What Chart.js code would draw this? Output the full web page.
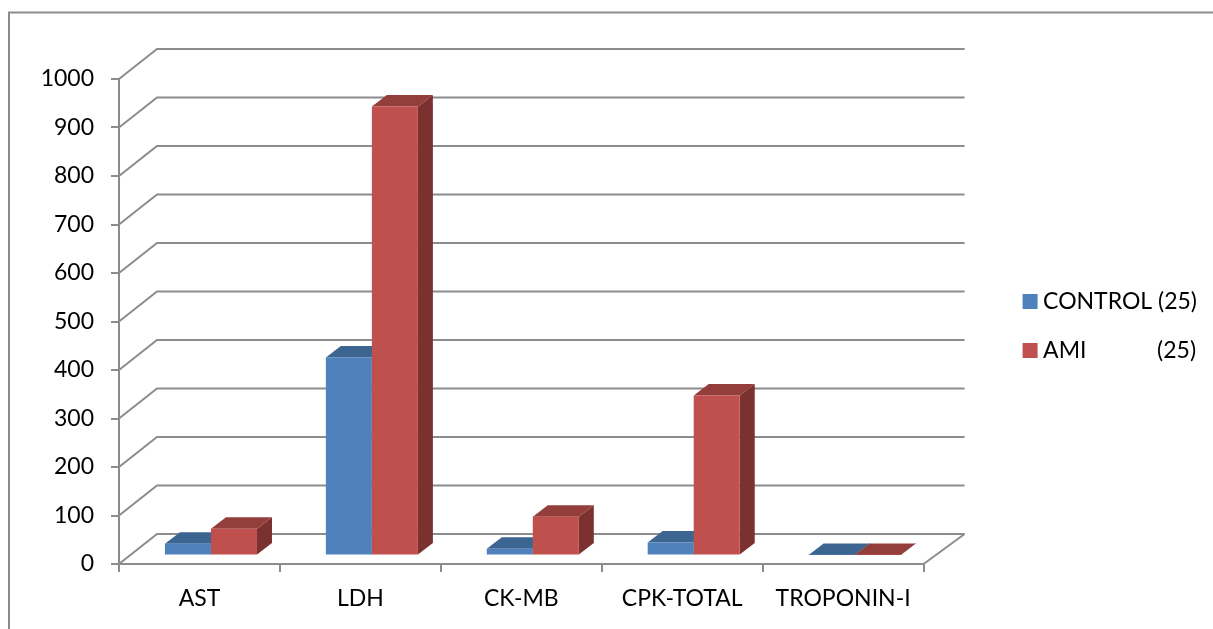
<!DOCTYPE html>
<html>
<head>
<meta charset="utf-8">
<title>Cardiac markers</title>
<style>
  html, body { margin: 0; padding: 0; background: #fff; overflow: hidden; }
  canvas { display: block; }
</style>
<script src="https://cdn.jsdelivr.net/npm/chart.js"></script>
</head>
<body>
<canvas id="markerChart" width="1213" height="629"></canvas>
<script>
const categories = ["AST", "LDH", "CK-MB", "CPK-TOTAL", "TROPONIN-I"];
const controlValues = [24, 408, 14, 27, 1];
const amiValues = [55, 926, 80, 330, 1];
const controlLabel = "CONTROL (25)";
const amiLabel = "AMI            (25)";

const gridColor = "#8c8c8c";
const textColor = "#000000";
const fontName = "Lato";
const fontSize = 23;

// fake 3D, sizes measured on the picture
const wallLeft = { x: 38, y: -30 };
const wallRight = { x: 41, y: -30 };
const barShift = { x: 11.5, y: -8.5 };
const barDepth = { x: 15, y: -11.5 };
const legendGap = 79;

function face(ctx, color, points) {
  ctx.fillStyle = color;
  ctx.beginPath();
  points.forEach(([x, y], i) => (i ? ctx.lineTo(x, y) : ctx.moveTo(x, y)));
  ctx.closePath();
  ctx.fill();
}

function drawBars(chart, index) {
  const ctx = chart.ctx;
  const ds = chart.data.datasets[index];
  const meta = chart.getDatasetMeta(index);
  ctx.save();
  ctx.translate(barShift.x, barShift.y);
  meta.data.forEach((bar) => {
    const { x, y, base, width } = bar.getProps(["x", "y", "base", "width"], true);
    const l = x - width / 2;
    const r = x + width / 2;
    const dx = barDepth.x;
    const dy = barDepth.y;
    face(ctx, ds.sideColor, [[r, y], [r + dx, y + dy], [r + dx, base + dy], [r, base]]);
    face(ctx, ds.topColor, [[l, y], [l + dx, y + dy], [r + dx, y + dy], [r, y]]);
  });
  meta.controller.draw();
  ctx.restore();
}

const frame3d = {
  id: "frame3d",
  beforeLayout(chart) {
    // leave empty room between the plot and the legend
    const legend = chart.legend;
    if (!legend._wideFit) {
      const fit = legend.fit;
      legend.fit = function () {
        fit.call(this);
        this.width += legendGap;
      };
      legend._wideFit = true;
    }
  },
  afterLayout(chart) {
    chart.legend.left += legendGap;
    chart.legend.top -= 28;
    chart.legend.bottom -= 28;
  },
  beforeDraw(chart) {
    const ctx = chart.ctx;
    ctx.save();
    ctx.strokeStyle = gridColor;
    ctx.lineWidth = 2;
    ctx.beginPath();
    ctx.moveTo(9, chart.height);
    ctx.lineTo(9, 12.5);
    ctx.lineTo(chart.width, 12.5);
    ctx.stroke();
    ctx.restore();
  },
  beforeDatasetsDraw(chart) {
    const ctx = chart.ctx;
    const { left, right, bottom } = chart.chartArea;
    const yScale = chart.scales.y;
    ctx.save();
    ctx.strokeStyle = gridColor;
    ctx.lineWidth = 2;
    yScale.ticks.forEach((tick) => {
      const y = yScale.getPixelForValue(tick.value);
      ctx.beginPath();
      ctx.moveTo(left, y);
      ctx.lineTo(left + wallLeft.x, y + wallLeft.y);
      ctx.lineTo(right + wallRight.x, y + wallRight.y);
      ctx.stroke();
    });
    ctx.beginPath();
    ctx.moveTo(right, bottom);
    ctx.lineTo(right + wallRight.x, bottom + wallRight.y);
    ctx.stroke();
    ctx.restore();

    // blue first so the red boxes sit in front of it
    chart.data.datasets.forEach((ds, index) => drawBars(chart, index));
  },
  beforeDatasetDraw() {
    return false;
  },
};

new Chart(document.getElementById("markerChart"), {
  type: "bar",
  data: {
    labels: categories,
    datasets: [
      {
        label: controlLabel,
        data: controlValues,
        backgroundColor: "#4f81bd",
        topColor: "#3d6592",
        sideColor: "#2f4f75",
      },
      {
        label: amiLabel,
        data: amiValues,
        backgroundColor: "#c0504d",
        topColor: "#933e3b",
        sideColor: "#7b312f",
      },
    ],
  },
  options: {
    responsive: false,
    animation: false,
    layout: { padding: { top: 79, right: 6 } },
    datasets: { bar: { barPercentage: 1, categoryPercentage: 0.572 } },
    scales: {
      x: {
        afterFit(scale) {
          scale.height = 65;
        },
        grid: { drawOnChartArea: false, color: gridColor, lineWidth: 2, tickLength: 8 },
        border: { color: gridColor, width: 2 },
        ticks: {
          color: textColor,
          padding: 13,
          maxRotation: 0,
          autoSkip: false,
          font: { family: fontName, size: fontSize },
        },
      },
      y: {
        min: 0,
        max: 1000,
        afterFit(scale) {
          scale.width = 119;
        },
        grid: { drawOnChartArea: false, color: gridColor, lineWidth: 2, tickLength: 8 },
        border: { color: gridColor, width: 2 },
        ticks: {
          stepSize: 100,
          color: textColor,
          padding: 17,
          font: { family: fontName, size: fontSize },
          callback: (value) => String(value),
        },
      },
    },
    plugins: {
      tooltip: { enabled: false },
      legend: {
        position: "right",
        labels: {
          color: textColor,
          padding: 26,
          boxWidth: 3,
          boxHeight: 3,
          font: { family: fontName, size: fontSize },
          generateLabels(chart) {
            // thick same colour stroke makes the 15px square and keeps the text close to it
            return Chart.defaults.plugins.legend.labels.generateLabels(chart).map((item) => ({
              ...item,
              strokeStyle: item.fillStyle,
              lineWidth: 12,
              lineJoin: "miter",
            }));
          },
        },
      },
    },
  },
  plugins: [frame3d],
});
</script>
</body>
</html>
